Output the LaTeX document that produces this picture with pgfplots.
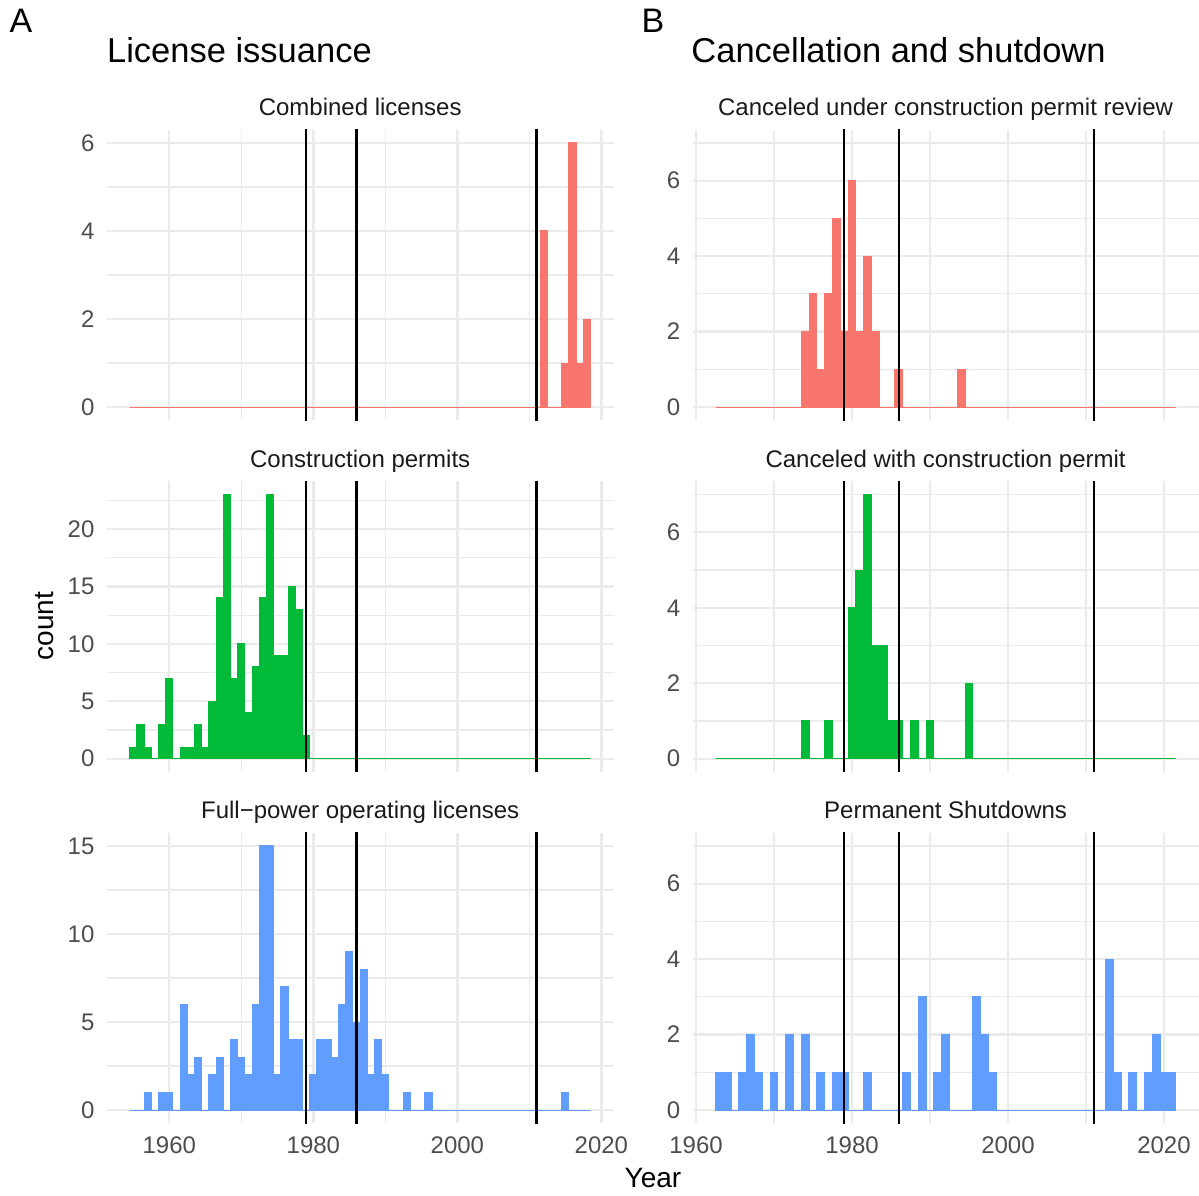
\documentclass[border=0pt]{standalone}
\usepackage{pgfplots}
\pgfplotsset{compat=1.18}
\usepackage{fontspec}
\setmainfont{Liberation Sans}

\definecolor{histred}{HTML}{F8766D}
\definecolor{histgreen}{HTML}{00BA38}
\definecolor{histblue}{HTML}{619CFF}
\definecolor{gridgrey}{HTML}{EBEBEB}
\definecolor{ticktext}{HTML}{4D4D4D}
\definecolor{striptext}{HTML}{1A1A1A}

\pgfplotsset{
  facet/.style={
    scale only axis,
    height=145.25pt,
    axis line style={draw=none},
    tick style={draw=none},
    major tick length=0pt, minor tick length=0pt,
    grid=both,
    major grid style={gridgrey, line width=1.15pt},
    minor grid style={gridgrey, line width=0.6pt},
    xtick={1960,1980,2000,2020},
    minor xtick={1970,1990,2010},
    /pgf/number format/assume math mode=true,
    /pgf/number format/1000 sep={},
    tick label style={font=\fontsize{12}{14}\selectfont, text=ticktext},
    yticklabel style={xshift=-2.6pt},
    xticklabel style={yshift=-3pt},
  },
  leftcol/.style={facet, width=253.45pt, xmin=1951.3, xmax=2021.7},
  rightcol/.style={facet, width=253.1pt, xmin=1959.55, xmax=2024.45,
    ymin=-0.35, ymax=7.35, ytick={0,2,4,6}, minor ytick={1,3,5,7}},
  hist/.style={ybar, bar shift=0pt, bar width=1, draw=#1, fill=#1, line width=0.5pt},
  event/.style={black, line width=1.25pt},
}
\tikzset{
  striplabel/.style={anchor=base, inner sep=0pt, text=striptext, font=\fontsize{12}{14}\selectfont},
}

% annual counts, one bin per year
\pgfplotstableread{
year n
1955 0
1956 0
1957 0
1958 0
1959 0
1960 0
1961 0
1962 0
1963 0
1964 0
1965 0
1966 0
1967 0
1968 0
1969 0
1970 0
1971 0
1972 0
1973 0
1974 0
1975 0
1976 0
1977 0
1978 0
1979 0
1980 0
1981 0
1982 0
1983 0
1984 0
1985 0
1986 0
1987 0
1988 0
1989 0
1990 0
1991 0
1992 0
1993 0
1994 0
1995 0
1996 0
1997 0
1998 0
1999 0
2000 0
2001 0
2002 0
2003 0
2004 0
2005 0
2006 0
2007 0
2008 0
2009 0
2010 0
2011 0
2012 4
2013 0
2014 0
2015 1
2016 6
2017 1
2018 2
}\combined

\pgfplotstableread{
year n
1955 1
1956 3
1957 1
1958 0
1959 3
1960 7
1961 0
1962 1
1963 1
1964 3
1965 1
1966 5
1967 14
1968 23
1969 7
1970 10
1971 4
1972 8
1973 14
1974 23
1975 9
1976 9
1977 15
1978 13
1979 2
1980 0
1981 0
1982 0
1983 0
1984 0
1985 0
1986 0
1987 0
1988 0
1989 0
1990 0
1991 0
1992 0
1993 0
1994 0
1995 0
1996 0
1997 0
1998 0
1999 0
2000 0
2001 0
2002 0
2003 0
2004 0
2005 0
2006 0
2007 0
2008 0
2009 0
2010 0
2011 0
2012 0
2013 0
2014 0
2015 0
2016 0
2017 0
2018 0
}\construction

\pgfplotstableread{
year n
1955 0
1956 0
1957 1
1958 0
1959 1
1960 1
1961 0
1962 6
1963 2
1964 3
1965 0
1966 2
1967 3
1968 0
1969 4
1970 3
1971 2
1972 6
1973 15
1974 15
1975 2
1976 7
1977 4
1978 4
1979 0
1980 2
1981 4
1982 4
1983 3
1984 6
1985 9
1986 5
1987 8
1988 2
1989 4
1990 2
1991 0
1992 0
1993 1
1994 0
1995 0
1996 1
1997 0
1998 0
1999 0
2000 0
2001 0
2002 0
2003 0
2004 0
2005 0
2006 0
2007 0
2008 0
2009 0
2010 0
2011 0
2012 0
2013 0
2014 0
2015 1
2016 0
2017 0
2018 0
}\fullpower

\pgfplotstableread{
year review withcp shutdown
1963 0 0 1
1964 0 0 1
1965 0 0 0
1966 0 0 1
1967 0 0 2
1968 0 0 1
1969 0 0 0
1970 0 0 1
1971 0 0 0
1972 0 0 2
1973 0 0 0
1974 2 1 2
1975 3 0 0
1976 1 0 1
1977 3 1 0
1978 5 0 1
1979 2 0 1
1980 6 4 0
1981 2 5 0
1982 4 7 1
1983 2 3 0
1984 0 3 0
1985 0 1 0
1986 1 1 0
1987 0 0 1
1988 0 1 0
1989 0 0 3
1990 0 1 0
1991 0 0 1
1992 0 0 2
1993 0 0 0
1994 1 0 0
1995 0 2 0
1996 0 0 3
1997 0 0 2
1998 0 0 1
1999 0 0 0
2000 0 0 0
2001 0 0 0
2002 0 0 0
2003 0 0 0
2004 0 0 0
2005 0 0 0
2006 0 0 0
2007 0 0 0
2008 0 0 0
2009 0 0 0
2010 0 0 0
2011 0 0 0
2012 0 0 0
2013 0 0 4
2014 0 0 1
2015 0 0 0
2016 0 0 1
2017 0 0 0
2018 0 0 1
2019 0 0 2
2020 0 0 1
2021 0 0 1
}\cancelled

% Three Mile Island, Chernobyl, Fukushima
\newcommand{\eventlines}{%
  \addplot[event] coordinates {(1979,-100) (1979,100)};
  \addplot[event] coordinates {(1986,-100) (1986,100)};
  \addplot[event] coordinates {(2011,-100) (2011,100)};
}

\begin{document}
\begin{tikzpicture}
\fill[white] (0,0) rectangle (599.5pt,-597.5pt);
\path[use as bounding box] (0,0) rectangle (599.5pt,-597.5pt);

% ---- left column: license issuance ----
\begin{axis}[leftcol, at={(53.35pt,-64.9pt)}, anchor=north west,
  ymin=-0.3, ymax=6.3, ytick={0,2,4,6}, minor ytick={1,3,5}, xticklabels={}]
  \addplot[hist=histred] table[x=year, y=n] {\combined};
  \eventlines
\end{axis}

\begin{axis}[leftcol, at={(53.35pt,-240.7pt)}, anchor=north west,
  ymin=-1.15, ymax=24.15, ytick={0,5,10,15,20}, minor ytick={2.5,7.5,12.5,17.5,22.5}, xticklabels={}]
  \addplot[hist=histgreen] table[x=year, y=n] {\construction};
  \eventlines
\end{axis}

\begin{axis}[leftcol, at={(53.35pt,-416.4pt)}, anchor=north west,
  ymin=-0.75, ymax=15.75, ytick={0,5,10,15}, minor ytick={2.5,7.5,12.5}]
  \addplot[hist=histblue] table[x=year, y=n] {\fullpower};
  \eventlines
\end{axis}

% ---- right column: cancellation and shutdown ----
\begin{axis}[rightcol, at={(346.25pt,-64.9pt)}, anchor=north west, xticklabels={}]
  \addplot[hist=histred] table[x=year, y=review] {\cancelled};
  \eventlines
\end{axis}

\begin{axis}[rightcol, at={(346.25pt,-240.7pt)}, anchor=north west, xticklabels={}]
  \addplot[hist=histgreen] table[x=year, y=withcp] {\cancelled};
  \eventlines
\end{axis}

\begin{axis}[rightcol, at={(346.25pt,-416.4pt)}, anchor=north west]
  \addplot[hist=histblue] table[x=year, y=shutdown] {\cancelled};
  \eventlines
\end{axis}

% ---- facet strips ----
\node[striplabel] at (180.1pt,-57.75pt) {Combined licenses};
\node[striplabel] at (180.1pt,-233.5pt) {Construction permits};
\node[striplabel] at (180.1pt,-409.25pt) {Full−power operating licenses};
\node[striplabel] at (472.8pt,-57.75pt) {Canceled under construction permit review};
\node[striplabel] at (472.8pt,-233.5pt) {Canceled with construction permit};
\node[striplabel] at (472.8pt,-409.25pt) {Permanent Shutdowns};

% ---- titles, panel tags and axis titles ----
\node[anchor=base west, inner sep=0pt, font=\fontsize{17}{20}\selectfont] at (4.6pt,-16.4pt) {A};
\node[anchor=base west, inner sep=0pt, font=\fontsize{17}{20}\selectfont] at (320.6pt,-16.3pt) {B};
\node[anchor=base west, inner sep=0pt, font=\fontsize{17.25}{20}\selectfont] at (53.35pt,-31.15pt) {License issuance};
\node[anchor=base west, inner sep=0pt, font=\fontsize{17.25}{20}\selectfont] at (345.5pt,-31.15pt) {Cancellation and shutdown};
\node[anchor=base, inner sep=0pt, font=\fontsize{14}{16}\selectfont] at (326.5pt,-593.5pt) {Year};
\node[anchor=base, inner sep=0pt, rotate=90, font=\fontsize{14}{16}\selectfont] at (26.5pt,-313pt) {count};
\end{tikzpicture}
\end{document}
